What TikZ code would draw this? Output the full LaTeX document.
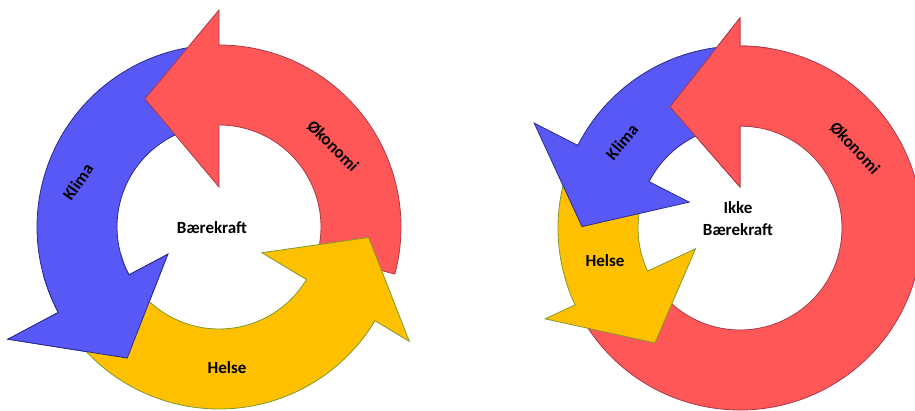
\documentclass[tikz,border=0pt]{standalone}
\usepackage{fontspec}
\setmainfont{Carlito}
\definecolor{redf}{HTML}{FF5757}
\definecolor{redd}{HTML}{A83A48}
\definecolor{bluef}{HTML}{5858F6}
\definecolor{blued}{HTML}{2A2A8C}
\definecolor{yelf}{HTML}{FFC000}
\definecolor{yeld}{HTML}{7E9A2A}
\newcommand{\rin}{102}
\newcommand{\rout}{182}
% #1 centre, #2 tail angle, #3 base angle, #4 tip angle, #5 tip radius, #6 head inner radius, #7 head outer radius
\newcommand{\arrowshape}[7]{%
 ([shift={(#1)}]#2:\rout) arc[start angle=#2, end angle=#3, radius=\rout]
 -- ([shift={(#1)}]#3:#7) -- ([shift={(#1)}]#4:#5) -- ([shift={(#1)}]#3:#6)
 -- ([shift={(#1)}]#3:\rin) arc[start angle=#3, end angle=#2, radius=\rin] -- cycle}
\tikzset{
  redarrow/.style={fill=redf, draw=redd, line width=0.8pt, line join=miter},
  bluearrow/.style={fill=bluef, draw=blued, line width=0.8pt, line join=miter},
  yelarrow/.style={fill=yelf, draw=yeld, line width=0.8pt, line join=miter},
  lbl/.style={font=\fontsize{17}{22}\selectfont\bfseries, text=black, inner sep=0pt}
}
\begin{document}
\begin{tikzpicture}[x=1pt, y=1pt]
\useasboundingbox (0,0) rectangle (915,411);
\clip (0,0) rectangle (915,411);
\coordinate (L) at (219,184);
\coordinate (R) at (740,183);
% ---------- left cycle ----------
\path[bluearrow] \arrowshape{L}{95}{208}{235}{160}{58}{239};
\path[redarrow] \arrowshape{L}{-15}{90}{120}{148}{40}{217};
\path[yelarrow] \arrowshape{L}{220}{329}{356}{150}{50}{222};
\begin{scope}
  \clip (L) -- ([shift={(L)}]195:300) arc[start angle=195, end angle=250, radius=300] -- cycle;
  \path[bluearrow] \arrowshape{L}{95}{208}{235}{160}{58}{239};
\end{scope}
% ---------- right cycle ----------
\path[redarrow] \arrowshape{R}{212}{450}{480}{140}{41}{210};
\path[yelarrow] \arrowshape{R}{165}{205}{233.5}{143}{49}{215};
\path[bluearrow] \arrowshape{R}{95}{153}{179.5}{158}{57}{231};
\begin{scope}
  \clip (R) -- ([shift={(R)}]80:300) arc[start angle=80, end angle=125, radius=300] -- cycle;
  \path[redarrow] \arrowshape{R}{212}{450}{480}{140}{41}{210};
\end{scope}
% ---------- labels ----------
\node[lbl, rotate=55] (klimaL) at (78,229) {Klima};
\node[lbl, rotate=-45] (okoL) at (333,265) {Økonomi};
\node[lbl] (helseL) at (227,43) {Helse};
\node[lbl] (baereL) at (212,183) {Bærekraft};
\node[lbl, rotate=50] (klimaR) at (622,269) {Klima};
\node[lbl, rotate=-47] (okoR) at (855,263) {Økonomi};
\node[lbl] (helseR) at (605,150) {Helse};
\node[lbl, align=center] (baereR) at (738,192) {Ikke\\Bærekraft};
\end{tikzpicture}
\end{document}
